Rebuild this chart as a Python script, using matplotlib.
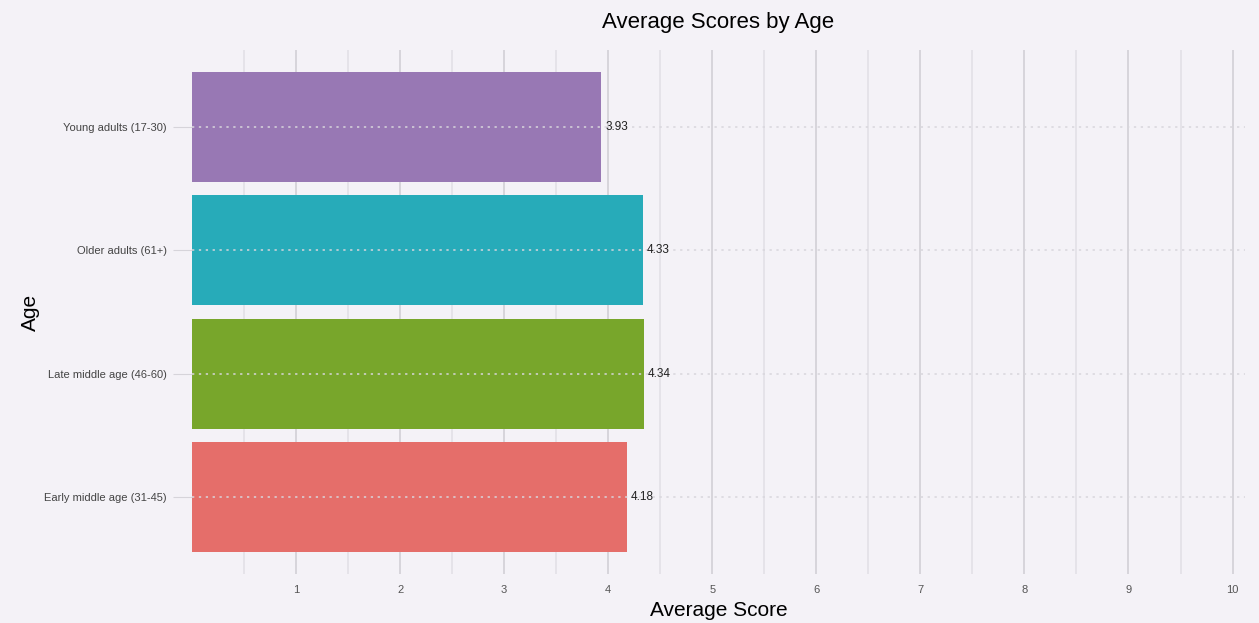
import matplotlib.pyplot as plt
import numpy as np

plt.rcParams['font.family'] = ['Liberation Sans', 'DejaVu Sans']

# data, bottom to top
ages = ['Early middle age (31-45)', 'Late middle age (46-60)',
        'Older adults (61+)', 'Young adults (17-30)']
scores = [4.18, 4.34, 4.33, 3.93]
colors = ['#e56e6a', '#78a62b', '#27abb9', '#9878b4']
xticks = [1, 2, 3, 4, 5, 6, 7, 8, 9, 10]

bg = '#f4f2f7'
fig = plt.figure(figsize=(12.59, 6.23), dpi=100, facecolor=bg)
ax = fig.add_axes([0.1525, 0.0787, 0.8364, 0.841])
ax.set_facecolor(bg)

ypos = np.arange(len(ages))

# vertical grid: half steps lighter, integers darker
for v in np.arange(0.5, 10.6, 0.5):
    c = '#d4d2d8' if float(v).is_integer() else '#e4e2e8'
    ax.axvline(v, color=c, lw=1.3, zorder=0)

bars = ax.barh(ypos, scores, height=0.89, color=colors, zorder=2)

for y in ypos:
    ax.axhline(y, color='#d8d6dc', lw=1.1, ls=(0, (1.5, 3)), zorder=3)

for y, s in zip(ypos, scores):
    ax.text(s + 0.04, y, f'{s:.2f}', va='center', ha='left',
            fontsize=8.5, color='#222222', zorder=4)

ax.set_xlim(0, 10.12)
ax.set_ylim(-0.62, len(ages) - 1 + 0.62)
ax.set_xticks(xticks)
ax.set_xticklabels([str(t) for t in xticks])
ax.set_yticks(ypos)
ax.set_yticklabels(ages)
ax.tick_params(axis='x', length=0, pad=8, labelsize=8, labelcolor='#555555')
ax.tick_params(axis='y', length=14, color='#d6d4da', pad=4, labelsize=8,
               labelcolor='#444444')
for t in ax.yaxis.get_ticklines():
    t.set_linestyle((0, (2, 2)))
for sp in ax.spines.values():
    sp.set_visible(False)

ax.set_xlabel('Average Score', fontsize=15, labelpad=4)
ax.set_ylabel('Age', fontsize=15, labelpad=3)
ax.set_title('Average Scores by Age', fontsize=16, pad=16)

fig.savefig('out.png', dpi=100, facecolor=bg)
